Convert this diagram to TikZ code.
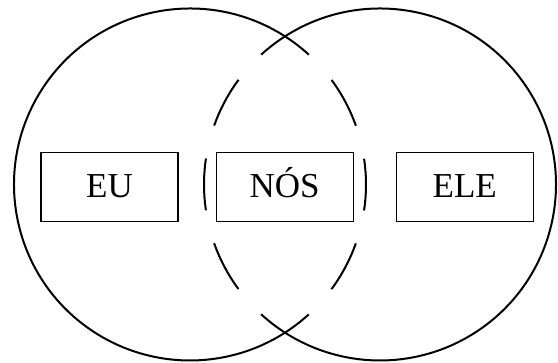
\documentclass[tikz,border=0pt]{standalone}
\usepackage{fontspec}
\setmainfont{Liberation Serif}
\usepackage{tikz}
\usetikzlibrary{positioning}
\tikzstyle{word} = [draw, rectangle, line width=1.1pt, minimum height=69pt, minimum width=137pt, inner sep=0pt, text height=23pt, text depth=2pt, font=\fontsize{35}{40}\selectfont]
\tikzstyle{ring} = [line width=2pt]
\tikzstyle{lens} = [line width=2pt, dash pattern=on 52pt off 34pt, dash phase=22pt]
\tikzstyle{centre} = [coordinate]

\begin{document}
\begin{tikzpicture}[x=1pt,y=1pt]
    \useasboundingbox (0,0) rectangle (558,363);
    \node [centre] (euc) at (190,178.5) {};
    \node [centre] (elec) at (380,178.5) {};

    \node [word] (eu) at (109.5,175.8) {EU};
    \node [word, right=37pt of eu] (nos) {NÓS};
    \node [word, right=42pt of nos] (ele) {ELE};

    % outer parts solid, the common part dashed
    \draw [ring] (euc) ++(57.33:176) arc (57.33:302.67:176);
    \draw [lens] (euc) ++(-57.33:176) arc (-57.33:57.33:176);
    \draw [ring] (elec) ++(122.67:176) arc (122.67:-122.67:176);
    \draw [lens] (elec) ++(122.67:176) arc (122.67:237.33:176);
\end{tikzpicture}
\end{document}
